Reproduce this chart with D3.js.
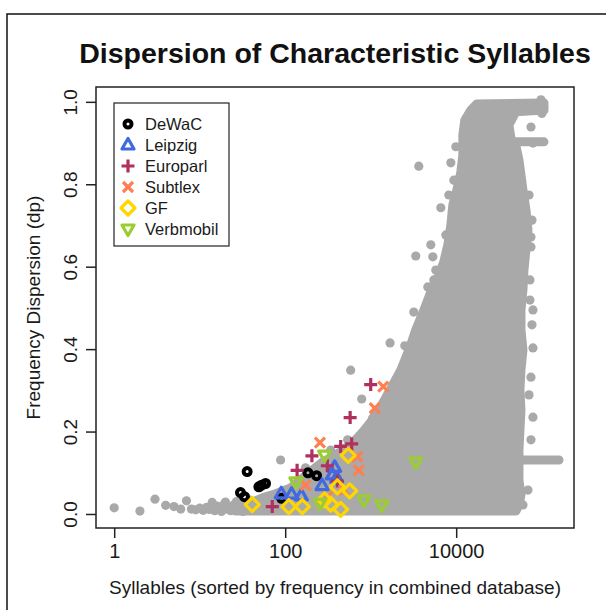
<!DOCTYPE html>
<html><head><meta charset="utf-8">
<script src="https://cdn.jsdelivr.net/npm/d3@7/dist/d3.min.js"></script>
<style>body{margin:0;background:#fff}svg text{font-family:Arial,"Liberation Sans",sans-serif}</style>
</head><body><svg id="chart" width="606" height="610"></svg>
<script>
// ---------- data ----------
const titleText = "Dispersion of Characteristic Syllables";
const xLabel = "Syllables (sorted by frequency in combined database)";
const yLabel = "Frequency Dispersion (dp)";
const xTicks = [1, 100, 10000];
const xTickLabels = ["1", "100", "10000"];
const yTicks = [0, 0.2, 0.4, 0.6, 0.8, 1.0];
const yTickLabels = ["0.0", "0.2", "0.4", "0.6", "0.8", "1.0"];

// dense core of the gray cloud (outline, rank vs dp)
const cloudRank = [26.2, 39.3, 54.3, 77.2, 115.6, 151.4, 209.4, 274, 389, 510, 667, 806, 1000, 1242, 1500, 1811, 2247, 2572, 2943, 3369, 3855, 4412, 5049, 6099, 7170, 7986, 8660, 9140, 10180, 11340, 11970, 11970, 12630, 14850, 17460,
  106400, 106400, 50000, 41390, 43700, 43700, 106400, 43700, 50000, 54220, 57220, 60400, 65500, 69100, 65500, 62040, 60400, 57220, 57220, 60400, 57220, 55690, 57220, 55690, 54220, 54220, 54220, 159500, 54220, 54220, 54220, 57220, 54220, 50000, 26.2];
const cloudDp = [0.019, 0.027, 0.039, 0.049, 0.063, 0.083, 0.107, 0.126, 0.143, 0.160, 0.180, 0.199, 0.223, 0.252, 0.282, 0.313, 0.349, 0.379, 0.410, 0.447, 0.476, 0.507, 0.539, 0.573, 0.612, 0.653, 0.701, 0.750, 0.786, 0.830, 0.871, 0.920, 0.956, 0.980, 0.995,
  0.997, 0.980, 0.976, 0.944, 0.912, 0.903, 0.903, 0.903, 0.893, 0.859, 0.823, 0.786, 0.738, 0.689, 0.641, 0.592, 0.544, 0.495, 0.447, 0.398, 0.349, 0.301, 0.252, 0.204, 0.155, 0.136, 0.131, 0.131, 0.131, 0.124, 0.083, 0.046, 0.022, 0.007, 0.007];

// individually visible gray syllables
const grayRank = [1, 2, 3, 4, 5, 6, 7, 8, 9, 10, 11, 12, 13, 14, 15, 16, 17, 18, 19, 20, 21, 22, 23, 24, 25, 27, 28, 30, 32, 34, 36, 38, 40, 43, 46, 50,
  88.3, 583, 785, 1684, 2505, 3367, 3192, 4656, 3652, 8660, 9910, 6612, 3369, 5049, 5329, 5777, 4656, 79070, 74930, 79070, 74930, 74930, 74930, 72930, 79070, 79070,
  6612, 5473, 7568, 8204, 9390, 3750, 2788, 2018, 1460, 1056, 538, 340, 173,
  72900, 77000, 71100, 74930, 69100, 60400, 71100, 77000, 98100, 100500];
const grayDp = [0.015, 0.007, 0.036, 0.021, 0.018, 0.012, 0.032, 0.012, 0.010, 0.014, 0.009, 0.016, 0.011, 0.028, 0.008, 0.019, 0.013, 0.006, 0.022, 0.029, 0.012, 0.017, 0.008, 0.014, 0.022, 0.030, 0.010, 0.018, 0.006, 0.025, 0.013, 0.034, 0.009, 0.020, 0.030, 0.012,
  0.131, 0.349, 0.279, 0.415, 0.408, 0.422, 0.490, 0.514, 0.844, 0.852, 0.891, 0.743, 0.626, 0.653, 0.624, 0.592, 0.551, 0.403, 0.332, 0.235, 0.939, 0.672, 0.648, 0.568, 0.495, 0.900,
  0.544, 0.568, 0.677, 0.774, 0.810, 0.466, 0.393, 0.325, 0.272, 0.233, 0.180, 0.155, 0.112,
  0.519, 0.459, 0.289, 0.180, 0.058, 0.022, 0.774, 0.713, 1.005, 0.972];

const seriesNames = ["DeWaC", "Leipzig", "Europarl", "Subtlex", "GF", "Verbmobil"];
const seriesColors = ["#000000", "#4169E1", "#B03060", "#FF7F50", "#FFD700", "#9ACD32"];
const seriesShapes = ["circle", "triangle", "plus", "cross", "diamond", "triangleDown"];

const dewacRank = [30.0, 33.4, 35.9, 49.2, 52.9, 58.9, 90.7, 184.5, 233];
const dewacDp = [0.052, 0.042, 0.103, 0.066, 0.070, 0.074, 0.038, 0.100, 0.093];
const leipzigRank = [90, 118.8, 154.3, 270.4, 356, 379, 400];
const leipzigDp = [0.049, 0.048, 0.044, 0.069, 0.095, 0.113, 0.087];
const europarlRank = [70.6, 137.8, 205.4, 311, 407.5, 445.6, 599.5, 575, 1000];
const europarlDp = [0.018, 0.106, 0.141, 0.117, 0.080, 0.164, 0.170, 0.234, 0.314];
const subtlexRank = [173.3, 254.9, 313.9, 487, 698.5, 724, 1114, 1402];
const subtlexDp = [0.070, 0.173, 0.042, 0.058, 0.139, 0.106, 0.257, 0.309];
const gfRank = [41.2, 110.4, 158.5, 289, 340, 445.6, 407.5, 568, 545];
const gfDp = [0.023, 0.018, 0.018, 0.034, 0.024, 0.011, 0.066, 0.056, 0.142];
const verbmobilRank = [133.4, 254.9, 289, 835, 1346, 3367];
const verbmobilDp = [0.078, 0.026, 0.143, 0.034, 0.022, 0.126];

const seriesRanks = [dewacRank, leipzigRank, europarlRank, subtlexRank, gfRank, verbmobilRank];
const seriesDps = [dewacDp, leipzigDp, europarlDp, subtlexDp, gfDp, verbmobilDp];

// ---------- drawing ----------
const svg = d3.select("#chart");
const box = {left: 96, right: 574, top: 87, bottom: 528};
const x = d3.scaleLog().domain([0.6125, 238800]).range([box.left, box.right]);
const y = d3.scaleLinear().domain([-0.034, 1.036]).range([box.bottom, box.top]);
const gray = "#a9a9a9";
const ink = "#1a1a1a";

// outer figure frame (only top/left edges visible)
svg.append("rect").attr("x", 7).attr("y", 14).attr("width", 900).attr("height", 900)
  .attr("fill", "none").attr("stroke", "#111").attr("stroke-width", 1.5);

const plot = svg.append("g");
plot.append("clipPath").attr("id", "clip").append("rect")
  .attr("x", box.left).attr("y", box.top).attr("width", box.right - box.left).attr("height", box.bottom - box.top);
const g = plot.append("g").attr("clip-path", "url(#clip)");

const cloud = cloudRank.map((r, i) => [r, cloudDp[i]]);
g.append("path").datum(cloud)
  .attr("d", d3.line().x(d => x(d[0])).y(d => y(d[1])).curve(d3.curveLinearClosed))
  .attr("fill", gray).attr("stroke", gray).attr("stroke-width", 9).attr("stroke-linejoin", "round").attr("stroke-linecap", "round");

g.selectAll("circle.gray").data(grayRank.map((r, i) => [r, grayDp[i]])).join("circle")
  .attr("class", "gray").attr("cx", d => x(d[0])).attr("cy", d => y(d[1])).attr("r", 4.6).attr("fill", gray);

function shapePath(s) {
  switch (s) {
    case "circle": return "M3.5,0A3.5,3.5 0 1,1 -3.5,0A3.5,3.5 0 1,1 3.5,0Z";
    case "triangle": return "M0,-6.5L6,4L-6,4Z";
    case "triangleDown": return "M0,6.5L6,-4L-6,-4Z";
    case "plus": return "M-6.5,0H6.5M0,-6.5V6.5";
    case "cross": return "M-5,-5L5,5M-5,5L5,-5";
    case "diamond": return "M0,-7L7,0L0,7L-7,0Z";
  }
}

seriesNames.forEach((name, k) => {
  const pts = seriesRanks[k].map((r, i) => [r, seriesDps[k][i]]);
  g.selectAll("path.s" + k).data(pts).join("path").attr("class", "s" + k)
    .attr("transform", d => `translate(${x(d[0])},${y(d[1])})`)
    .attr("d", shapePath(seriesShapes[k]))
    .attr("fill", "none").attr("stroke", seriesColors[k]).attr("stroke-width", k === 0 ? 4 : 3.2)
    .attr("stroke-linejoin", "round");
});

// plot box
svg.append("rect").attr("x", box.left).attr("y", box.top)
  .attr("width", box.right - box.left).attr("height", box.bottom - box.top)
  .attr("fill", "none").attr("stroke", "#222").attr("stroke-width", 1.5);

// x axis
const xAxis = d3.axisBottom(x).tickValues(xTicks).tickFormat((d, i) => xTickLabels[i]).tickSize(10).tickPadding(6);
const gx = svg.append("g").attr("transform", `translate(0,${box.bottom})`).call(xAxis);
gx.select(".domain").remove();
gx.selectAll("line").attr("stroke", "#222").attr("stroke-width", 1.5);
gx.selectAll("text").attr("font-size", 20).attr("fill", ink).attr("font-family", "Arial, Liberation Sans, sans-serif");

// y axis
const yAxis = d3.axisLeft(y).tickValues(yTicks).tickFormat((d, i) => yTickLabels[i]).tickSize(10).tickPadding(6);
const gy = svg.append("g").attr("transform", `translate(${box.left},0)`).call(yAxis);
gy.select(".domain").remove();
gy.selectAll("line").attr("stroke", "#222").attr("stroke-width", 1.5);
gy.selectAll("text").attr("font-size", 19).attr("fill", ink).attr("font-family", "Arial, Liberation Sans, sans-serif")
  .attr("text-anchor", "middle").attr("dy", 0).attr("x", 0)
  .attr("transform", "translate(-19,0) rotate(-90)");

// titles
svg.append("text").attr("x", (box.left + box.right) / 2).attr("y", 63).attr("text-anchor", "middle")
  .attr("font-size", 28.5).attr("font-weight", "bold").attr("fill", "#111").text(titleText);
svg.append("text").attr("x", (box.left + box.right) / 2).attr("y", 594).attr("text-anchor", "middle")
  .attr("font-size", 19).attr("fill", ink).text(xLabel);
svg.append("text").attr("transform", `translate(40,${(box.top + box.bottom) / 2}) rotate(-90)`).attr("text-anchor", "middle")
  .attr("font-size", 19).attr("fill", ink).text(yLabel);

// legend
const lg = svg.append("g");
lg.append("rect").attr("x", 114).attr("y", 103).attr("width", 115).attr("height", 143)
  .attr("fill", "#fff").attr("stroke", "#222").attr("stroke-width", 1.2);
seriesNames.forEach((name, k) => {
  const ly = 124 + k * 21;
  lg.append("path").attr("transform", `translate(128,${ly})`).attr("d", shapePath(seriesShapes[k]))
    .attr("fill", "none").attr("stroke", seriesColors[k]).attr("stroke-width", k === 0 ? 4 : 3.2).attr("stroke-linejoin", "round");
  lg.append("text").attr("x", 145).attr("y", ly).attr("dy", "0.35em").attr("font-size", 16.5).attr("fill", ink).text(name);
});
</script></body></html>
